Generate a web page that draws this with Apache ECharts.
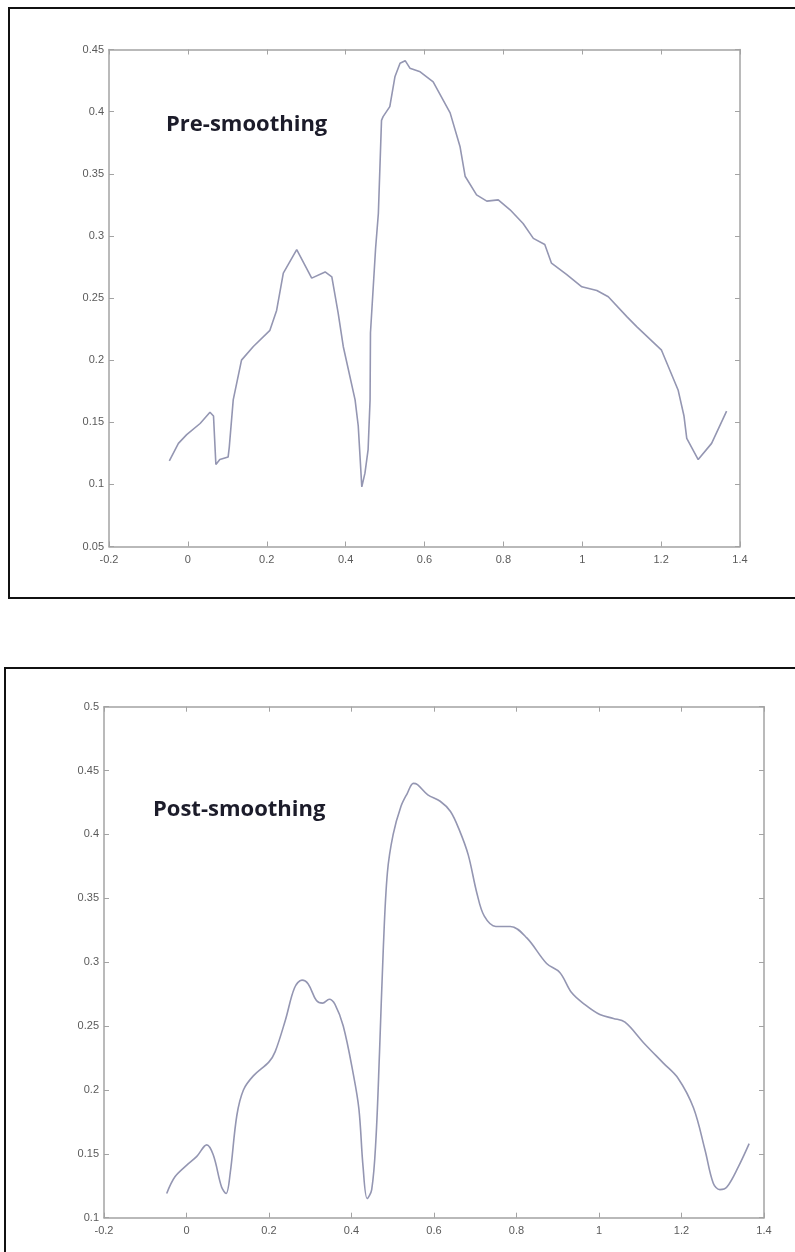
<!DOCTYPE html>
<html>
<head>
<meta charset="utf-8">
<script src="https://cdn.jsdelivr.net/npm/echarts@6/dist/echarts.min.js"></script>
<style>
  html, body { margin: 0; padding: 0; background: #ffffff; }
  #chart { width: 795px; height: 1252px; }
</style>
</head>
<body>
<div id="chart"></div>
<script>
// Profile before smoothing: [x, value]
const preSmoothing = [
  [-0.047, 0.119], [-0.024, 0.133], [-0.003, 0.140], [0.031, 0.149], [0.056, 0.158],
  [0.065, 0.155], [0.071, 0.116], [0.081, 0.120], [0.102, 0.122], [0.105, 0.130],
  [0.115, 0.168], [0.136, 0.200], [0.166, 0.211], [0.208, 0.224], [0.225, 0.240],
  [0.242, 0.270], [0.276, 0.289], [0.314, 0.266], [0.348, 0.271], [0.365, 0.267],
  [0.381, 0.238], [0.394, 0.211], [0.424, 0.168], [0.432, 0.147], [0.441, 0.098],
  [0.449, 0.109], [0.457, 0.128], [0.462, 0.168], [0.463, 0.222], [0.476, 0.290],
  [0.483, 0.318], [0.491, 0.393], [0.495, 0.396], [0.512, 0.404], [0.525, 0.428],
  [0.538, 0.439], [0.551, 0.441], [0.563, 0.435], [0.589, 0.432], [0.622, 0.424],
  [0.665, 0.399], [0.690, 0.372], [0.703, 0.348], [0.732, 0.333], [0.758, 0.328],
  [0.787, 0.329], [0.817, 0.321], [0.850, 0.310], [0.876, 0.298], [0.905, 0.293],
  [0.922, 0.278], [0.960, 0.269], [0.999, 0.259], [1.037, 0.256], [1.066, 0.251],
  [1.113, 0.235], [1.138, 0.227], [1.201, 0.208], [1.243, 0.176], [1.258, 0.155],
  [1.265, 0.137], [1.294, 0.120], [1.328, 0.133], [1.366, 0.159]
];

// Profile after smoothing: [x, value]
const postSmoothing = [
  [-0.048, 0.119], [-0.028, 0.132], [0.000, 0.141], [0.025, 0.148], [0.049, 0.157],
  [0.065, 0.149], [0.085, 0.124], [0.096, 0.119], [0.106, 0.135], [0.122, 0.180],
  [0.138, 0.200], [0.162, 0.211], [0.200, 0.222], [0.215, 0.230], [0.240, 0.255],
  [0.262, 0.280], [0.280, 0.286], [0.295, 0.283], [0.315, 0.270], [0.330, 0.268],
  [0.346, 0.271], [0.360, 0.267], [0.380, 0.250], [0.404, 0.213], [0.418, 0.185],
  [0.428, 0.140], [0.438, 0.115], [0.449, 0.122], [0.459, 0.160], [0.468, 0.230],
  [0.477, 0.310], [0.487, 0.370], [0.501, 0.400], [0.520, 0.422], [0.535, 0.432],
  [0.550, 0.440], [0.560, 0.439], [0.585, 0.431], [0.615, 0.426], [0.640, 0.418],
  [0.662, 0.403], [0.683, 0.384], [0.704, 0.354], [0.722, 0.336], [0.750, 0.328],
  [0.785, 0.328], [0.825, 0.319], [0.873, 0.299], [0.905, 0.292], [0.934, 0.276],
  [0.965, 0.267], [1.002, 0.259], [1.035, 0.256], [1.063, 0.253], [1.108, 0.237],
  [1.156, 0.221], [1.192, 0.209], [1.229, 0.186], [1.257, 0.153], [1.277, 0.127],
  [1.293, 0.122], [1.310, 0.124], [1.338, 0.140], [1.364, 0.158]
];

const panelTitles = ['Pre-smoothing', 'Post-smoothing'];
const xRange = { min: -0.2, max: 1.4, interval: 0.2 };
const yRanges = [
  { min: 0.05, max: 0.45, interval: 0.05 },
  { min: 0.1, max: 0.5, interval: 0.05 }
];

const axisColor = '#a3a3a3';
const labelColor = '#5a5a5a';
const lineColor = '#9496b2';

const chart = echarts.init(document.getElementById('chart'), null, { renderer: 'canvas' });

const grids = [
  { left: 109, top: 49.5, width: 631, height: 497 },
  { left: 104, top: 706.7, width: 660, height: 511 }
];

function fmt(v) {
  return String(Math.round(v * 100) / 100);
}

const xAxes = [];
const yAxes = [];
grids.forEach(function (g, i) {
  // bottom axis with labels
  xAxes.push({
    type: 'value', gridIndex: i, position: 'bottom',
    min: xRange.min, max: xRange.max, interval: xRange.interval,
    axisLine: { show: true, onZero: false, lineStyle: { color: axisColor, width: 1.5 } },
    axisTick: { show: true, inside: true, length: 5, lineStyle: { color: axisColor, width: 1 } },
    axisLabel: { color: labelColor, fontSize: 11, fontFamily: 'Liberation Sans', margin: 8, formatter: fmt },
    splitLine: { show: false }
  });
  // top edge: ticks only
  xAxes.push({
    type: 'value', gridIndex: i, position: 'top',
    min: xRange.min, max: xRange.max, interval: xRange.interval,
    axisLine: { show: true, onZero: false, lineStyle: { color: axisColor, width: 1.5 } },
    axisTick: { show: true, inside: true, length: 5, lineStyle: { color: axisColor, width: 1 } },
    axisLabel: { show: false },
    splitLine: { show: false }
  });
  const yr = yRanges[i];
  yAxes.push({
    type: 'value', gridIndex: i, position: 'left',
    min: yr.min, max: yr.max, interval: yr.interval,
    axisLine: { show: true, onZero: false, lineStyle: { color: axisColor, width: 1.5 } },
    axisTick: { show: true, inside: true, length: 5, lineStyle: { color: axisColor, width: 1 } },
    axisLabel: { color: labelColor, fontSize: 11, fontFamily: 'Liberation Sans', margin: 5, formatter: fmt },
    splitLine: { show: false }
  });
  yAxes.push({
    type: 'value', gridIndex: i, position: 'right',
    min: yr.min, max: yr.max, interval: yr.interval,
    axisLine: { show: true, onZero: false, lineStyle: { color: axisColor, width: 1.5 } },
    axisTick: { show: true, inside: true, length: 5, lineStyle: { color: axisColor, width: 1 } },
    axisLabel: { show: false },
    splitLine: { show: false }
  });
});

const option = {
  animation: false,
  backgroundColor: '#ffffff',
  grid: grids,
  xAxis: xAxes,
  yAxis: yAxes,
  series: [
    {
      type: 'line', xAxisIndex: 0, yAxisIndex: 0,
      data: preSmoothing, showSymbol: false, smooth: false,
      lineStyle: { color: lineColor, width: 1.6 }
    },
    {
      type: 'line', xAxisIndex: 2, yAxisIndex: 2,
      data: postSmoothing, showSymbol: false, smooth: 0.35,
      lineStyle: { color: lineColor, width: 1.6 }
    }
  ],
  graphic: [
    // panel frames (open on the right / bottom where they run past the page)
    {
      type: 'rect', silent: true,
      shape: { x: 9, y: 8, width: 800, height: 590 },
      style: { fill: 'none', stroke: '#111111', lineWidth: 2 }
    },
    {
      type: 'rect', silent: true,
      shape: { x: 5, y: 668, width: 800, height: 600 },
      style: { fill: 'none', stroke: '#111111', lineWidth: 2 }
    },
    {
      type: 'text', left: 166, top: 114,
      style: {
        text: panelTitles[0], fill: '#1c1c2a',
        font: 'bold 22px "Open Sans"'
      }
    },
    {
      type: 'text', left: 153, top: 799,
      style: {
        text: panelTitles[1], fill: '#1c1c2a',
        font: 'bold 22px "Open Sans"'
      }
    }
  ]
};

chart.setOption(option);
</script>
</body>
</html>
